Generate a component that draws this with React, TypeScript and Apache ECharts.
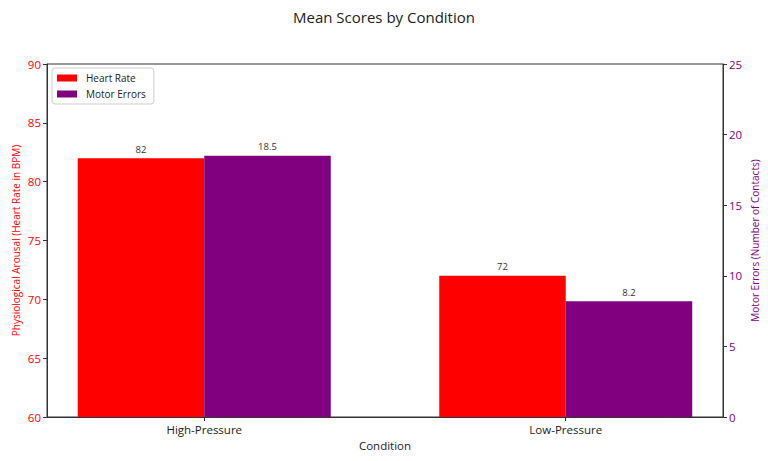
import React, { useEffect, useRef } from "react";
import * as echarts from "echarts";

const categories = ["High-Pressure", "Low-Pressure"];
const heartRate = [82, 72];
const motorErrors = [18.5, 8.2];
const leftTicks = [60, 65, 70, 75, 80, 85, 90];
const rightTicks = [0, 5, 10, 15, 20, 25];

const FONT = "'Open Sans', 'DejaVu Sans', sans-serif";

export default function App() {
  const ref = useRef<HTMLDivElement>(null);
  useEffect(() => {
    if (!ref.current) return;
    document.body.style.margin = "0";
    const chart = echarts.init(ref.current, null, { renderer: "svg" });
    const catIdx = categories.map((_, i) => i);
    chart.setOption({
      animation: false,
      backgroundColor: "#fff",
      textStyle: { fontFamily: FONT },
      title: {
        text: "Mean Scores by Condition",
        left: "center",
        top: 4,
        textStyle: { fontSize: 15, fontWeight: "normal", color: "#222", fontFamily: FONT },
      },
      legend: {
        orient: "vertical",
        left: 52,
        top: 68,
        icon: "rect",
        itemWidth: 20,
        itemHeight: 7,
        itemGap: 6,
        padding: [5, 8, 5, 5],
        borderColor: "#ccc",
        borderWidth: 1,
        borderRadius: 3,
        backgroundColor: "#fff",
        textStyle: { fontSize: 10, color: "#222", fontFamily: FONT, padding: [0, 0, 0, 4] },
        data: ["Heart Rate", "Motor Errors"],
      },
      grid: {
        left: 47,
        right: 45,
        top: 64,
        bottom: 44,
        show: true,
        borderColor: "#333",
        borderWidth: 1,
        backgroundColor: "transparent",
      },
      xAxis: {
        type: "value",
        min: -0.435,
        max: 1.435,
        name: "Condition",
        nameLocation: "middle",
        nameGap: 22,
        nameMoveOverlap: false,
        nameTextStyle: { fontSize: 11.5, color: "#222" },
        splitLine: { show: false },
        axisLine: { show: true, onZero: false, lineStyle: { color: "#333" } },
        axisTick: { show: true, customValues: catIdx, length: 4, lineStyle: { color: "#333" } },
        axisLabel: {
          customValues: catIdx,
          formatter: (v: number) => categories[Math.round(v)] ?? "",
          fontSize: 11.5,
          color: "#222",
          margin: 6,
        },
      },
      yAxis: [
        {
          type: "value",
          min: 60,
          max: 90,
          interval: 5,
          position: "left",
          name: "Physiological Arousal (Heart Rate in BPM)",
          nameLocation: "middle",
          nameGap: 26,
          nameMoveOverlap: false,
          nameTextStyle: { fontSize: 10, color: "red" },
          splitLine: { show: false },
          axisLine: { show: true, onZero: false, lineStyle: { color: "#333" } },
          axisTick: { show: true, length: 4, lineStyle: { color: "#333" } },
          axisLabel: {
            fontSize: 11.5,
            color: "red",
            margin: 6,
            formatter: (v: number) => (leftTicks.includes(v) ? String(v) : ""),
          },
        },
        {
          type: "value",
          min: 0,
          max: 25,
          interval: 5,
          position: "right",
          name: "Motor Errors (Number of Contacts)",
          nameLocation: "middle",
          nameGap: 27,
          nameRotate: 90,
          nameMoveOverlap: false,
          nameTextStyle: { fontSize: 10, color: "purple" },
          splitLine: { show: false },
          axisLine: { show: true, onZero: false, lineStyle: { color: "#333" } },
          axisTick: { show: true, length: 4, lineStyle: { color: "#333" } },
          axisLabel: {
            fontSize: 11.5,
            color: "purple",
            margin: 6,
            formatter: (v: number) => (rightTicks.includes(v) ? String(v) : ""),
          },
        },
      ],
      series: [
        {
          name: "Heart Rate",
          type: "bar",
          yAxisIndex: 0,
          barWidth: 126.5,
          barGap: "0%",
          itemStyle: { color: "red" },
          data: heartRate.map((v, i) => [i, v]),
          label: {
            show: true,
            position: "top",
            distance: 4,
            fontSize: 9.5,
            color: "#333",
            formatter: (p: any) => String(p.value[1]),
          },
        },
        {
          name: "Motor Errors",
          type: "bar",
          yAxisIndex: 1,
          barWidth: 126.5,
          barGap: "0%",
          itemStyle: { color: "purple" },
          data: motorErrors.map((v, i) => [i, v]),
          label: {
            show: true,
            position: "top",
            distance: 4,
            fontSize: 9.5,
            color: "#333",
            formatter: (p: any) => String(p.value[1]),
          },
        },
      ],
    });
    return () => chart.dispose();
  }, []);
  return <div ref={ref} style={{ width: 768, height: 461 }} />;
}
